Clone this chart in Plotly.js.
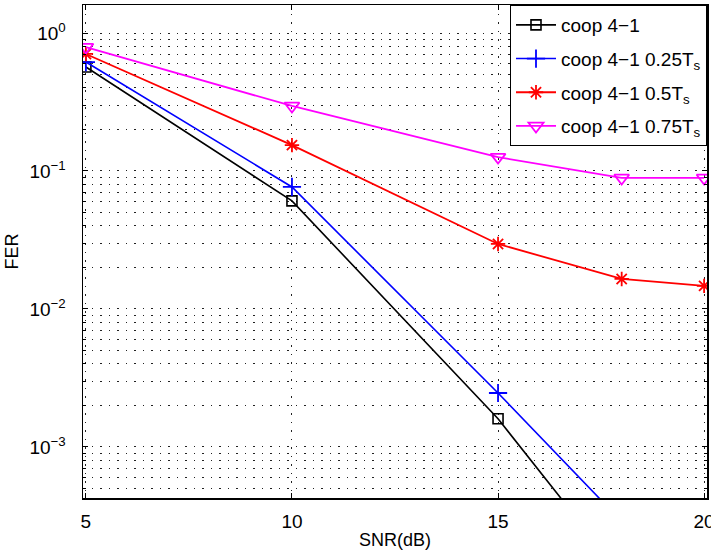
<!DOCTYPE html>
<html>
<head>
<meta charset="utf-8">
<script src="https://cdn.plot.ly/plotly-3.0.1.min.js"></script>
<style>html,body{margin:0;padding:0;background:#fff;}#chart{width:711px;height:550px;}</style>
</head>
<body>
<div id="chart"></div>
<script>
// SNR points (dB)
const snrFull = [5, 10, 15, 18, 20];
const snrSteep = [5, 10, 15, 18];
// FER values
const ferCoop = [0.567, 0.0607, 0.0016, 0.000118];
const ferCoop025 = [0.616, 0.0766, 0.00246, 0.000288];
const ferCoop05 = [0.705, 0.154, 0.0296, 0.0165, 0.0147];
const ferCoop075 = [0.79, 0.296, 0.126, 0.089, 0.089];
const seriesNames = ['coop 4−1', 'coop 4−1 0.25T<sub>s</sub>', 'coop 4−1 0.5T<sub>s</sub>', 'coop 4−1 0.75T<sub>s</sub>'];
const xTickVals = [5, 10, 15, 20];
const yTickVals = [1e-3, 1e-2, 1e-1, 1];
const yTickText = ['10<sup>−3</sup>', '10<sup>−2</sup>', '10<sup>−1</sup>', '10<sup>0</sup>'];

const fam = 'Liberation Sans, Arial, sans-serif';
const font = {family: fam, size: 18, color: '#000'};
const gridDash = '1.5px,7px';

const traces = [
  {x: snrSteep, y: ferCoop, name: seriesNames[0], legendgroup: 'a', mode: 'lines+markers',
   line: {color: '#000000', width: 1.6},
   marker: {symbol: 'square-open', size: 10, color: '#000000', line: {width: 1.6}}},
  {x: snrSteep, y: ferCoop025, name: seriesNames[1], legendgroup: 'b', mode: 'lines+markers',
   line: {color: '#0000ff', width: 1.6},
   marker: {symbol: 'cross-thin-open', size: 13, color: '#0000ff', line: {width: 1.8, color: '#0000ff'}}},
  {x: snrFull, y: ferCoop05, name: seriesNames[2], legendgroup: 'c', mode: 'lines+markers',
   line: {color: '#ff0000', width: 1.8},
   marker: {symbol: 'asterisk-open', size: 12, color: '#ff0000', line: {width: 1.8, color: '#ff0000'}}},
  {x: snrFull, y: ferCoop075, name: seriesNames[3], legendgroup: 'd', mode: 'lines+markers',
   line: {color: '#ff00ff', width: 1.8},
   marker: {symbol: 'triangle-down-open', size: 13, color: '#ff00ff', line: {width: 1.8}}}
];

const layout = {
  width: 711, height: 550,
  margin: {l: 83, r: 4, t: 5, b: 52, pad: 0},
  paper_bgcolor: '#fff', plot_bgcolor: '#fff',
  font: font,
  showlegend: true,
  legend: {x: 1, y: 1, xanchor: 'right', yanchor: 'top', bgcolor: '#fff',
           bordercolor: '#000', borderwidth: 1, font: {family: fam, size: 19, color: '#000'},
           tracegroupgap: 6, itemwidth: 40},
  xaxis: {
    range: [4.93, 20.07], tickvals: xTickVals, ticktext: xTickVals.map(String),
    showline: true, linecolor: '#000', linewidth: 1.5, mirror: 'ticks',
    ticks: 'inside', ticklen: 5, tickcolor: '#000', ticklabelstandoff: 6,
    ticklabeloverflow: 'allow',
    showgrid: true, gridcolor: '#222', gridwidth: 1, griddash: gridDash,
    zeroline: false, tickfont: {family: fam, size: 19, color: '#000'},
    title: {text: 'SNR(dB)', font: {family: fam, size: 18, color: '#000'}, standoff: 4}
  },
  yaxis: {
    type: 'log', range: [-3.37, 0.203],
    tickvals: yTickVals, ticktext: yTickText,
    showline: true, linecolor: '#000', linewidth: 1.5, mirror: 'ticks',
    ticks: 'inside', ticklen: 5, tickcolor: '#000', ticklabelstandoff: 12,
    showgrid: true, gridcolor: '#222', gridwidth: 1, griddash: gridDash,
    minor: {dtick: 'D1', showgrid: true, gridcolor: '#222', gridwidth: 1, griddash: gridDash,
            ticks: 'inside', ticklen: 3, tickcolor: '#000'},
    zeroline: false, tickfont: {family: fam, size: 19, color: '#000'},
    title: {text: 'FER', font: {family: fam, size: 18, color: '#000'}, standoff: 6}
  }
};

Plotly.newPlot('chart', traces, layout, {displayModeBar: false, staticPlot: true});
</script>
</body>
</html>
